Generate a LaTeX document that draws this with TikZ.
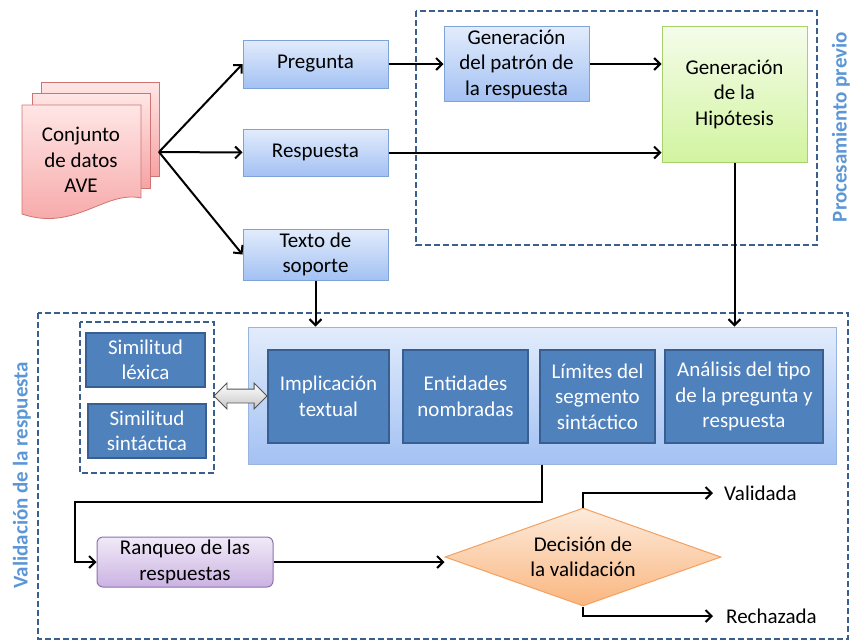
\documentclass[tikz,border=0pt]{standalone}
\usepackage{fontspec}
\setmainfont{Carlito}
\usetikzlibrary{shapes.geometric,shapes.arrows,calc,arrows.meta}

\definecolor{dashblue}{HTML}{3A5F8E}
\definecolor{labelblue}{HTML}{5B96D6}
\definecolor{boxtop}{HTML}{E2ECFC}
\definecolor{boxbot}{HTML}{A3C1F3}
\definecolor{boxedge}{HTML}{7EA3D8}
\definecolor{darkfill}{HTML}{4F81BD}
\definecolor{darkedge}{HTML}{385F91}
\definecolor{pinktop}{HTML}{FFE6E6}
\definecolor{pinkbot}{HTML}{F6A3A3}
\definecolor{pinkedge}{HTML}{D07373}
\definecolor{greentop}{HTML}{F5FCEA}
\definecolor{greenbot}{HTML}{D2F4A0}
\definecolor{greenedge}{HTML}{A6D26C}
\definecolor{purptop}{HTML}{F1EAF8}
\definecolor{purpbot}{HTML}{CBB3E2}
\definecolor{purpedge}{HTML}{8D70B0}
\definecolor{orgtop}{HTML}{FDEBDC}
\definecolor{orgbot}{HTML}{FAB67F}
\definecolor{orgedge}{HTML}{F3A060}

\newcommand\diagfont{\fontsize{21}{25.5}\selectfont}

\tikzset{
  lbox/.style={draw=boxedge, line width=1pt, top color=boxtop, bottom color=boxbot,
    align=center, inner sep=2pt, font=\diagfont},
  dbox/.style={draw=darkedge, line width=1.6pt, fill=darkfill, text=white,
    align=center, inner sep=2pt, font=\diagfont},
  gbox/.style={draw=greenedge, line width=1pt, top color=greentop, bottom color=greenbot,
    align=center, inner sep=2pt, font=\diagfont},
  pbox/.style={draw=purpedge, line width=1pt, top color=purptop, bottom color=purpbot,
    rounded corners=6pt, align=center, inner sep=2pt, font=\diagfont},
  decbox/.style={diamond, aspect=2.8, draw=orgedge, line width=1pt, top color=orgtop, bottom color=orgbot,
    align=center, inner sep=0pt, font=\diagfont},
  docpage/.style={draw=pinkedge, line width=0.8pt, top color=pinktop, bottom color=pinkbot},
  groupbox/.style={draw=dashblue, line width=2pt, dash pattern=on 6pt off 3pt},
  sidelabel/.style={rotate=90, font=\diagfont\bfseries, text=labelblue},
  flow/.style={line width=2pt, -{Straight Barb[length=6pt,width=12pt]}},
  plain/.style={font=\diagfont, inner sep=0pt}
}

\begin{document}
\begin{tikzpicture}[x=1pt,y=-1pt]
\useasboundingbox (0,0) rectangle (852,641);

% dashed groups
\draw[groupbox] (416,11) rectangle (817,245);
\draw[groupbox] (38,313) rectangle (848,639);
\draw[groupbox] (80,322) rectangle (214,473);

\node[sidelabel] (proclabel) at (841,127) {Procesamiento previo};
\node[sidelabel] (vallabel) at (22,475) {Validación de la respuesta};

% stacked data document
\path[docpage] (41,82) rectangle (159,176);
\path[docpage] (32,93) rectangle (150,188);
\path[docpage] (22,105) -- (141,105) -- (141,198)
  .. controls (105,190) and (75,232) .. (22,214) -- cycle;
\node[plain, align=center] (doc) at (81,160) {Conjunto\\de datos\\AVE};
\coordinate (src) at (159,152);

% input boxes
\node[lbox, minimum width=145, minimum height=48] (preg) at (315.5,64) {Pregunta};
\node[lbox, minimum width=145, minimum height=47] (resp) at (315.5,152.5) {Respuesta};
\node[lbox, minimum width=145, minimum height=51] (texto) at (315.5,254.5) {Texto de\\soporte};

% preprocessing
\node[lbox, minimum width=145, minimum height=75] (patron) at (516.5,64) {Generación\\del patrón de\\la respuesta};
\node[gbox, minimum width=145, minimum height=136] (hip) at (734.5,94) {Generación\\de la\\Hipótesis};

% validation modules
\node[lbox, draw=boxedge!80, minimum width=588, minimum height=137] (big) at (542,395.5) {};
\node[dbox, minimum width=121, minimum height=93] (impl) at (328.5,396.5) {Implicación\\textual};
\node[dbox, minimum width=125, minimum height=93] (ent) at (465.5,396.5) {Entidades\\nombradas};
\node[dbox, minimum width=115, minimum height=93] (lim) at (597.5,396.5) {Límites del\\segmento\\sintáctico};
\node[dbox, minimum width=158, minimum height=93] (anal) at (744,396.5) {Análisis del tipo\\de la pregunta y\\respuesta};

\node[dbox, minimum width=119, minimum height=54] (lex) at (145.5,360) {Similitud\\léxica};
\node[dbox, minimum width=118, minimum height=54] (sint) at (147,431) {Similitud\\sintáctica};

\node[double arrow, draw=gray!65!black, line width=0.8pt, top color=white, bottom color=gray!45,
  minimum height=53, minimum width=25, double arrow head extend=6pt, inner sep=6.5pt] (dbl) at (240.5,396) {};

% ranking and decision
\node[pbox, minimum width=176, minimum height=50] (ranq) at (185,562) {Ranqueo de las\\respuestas};
\node[decbox, minimum width=276, minimum height=98] (dec) at (583,557) {Decisión de\\la validación};
\node[plain, anchor=west] (val) at (724,493) {Validada};
\node[plain, anchor=west] (rech) at (726,616) {Rechazada};

% connectors
\draw[flow] (src) -- (preg.west);
\draw[flow] (src) -- (resp.west);
\draw[flow] (src) -- (texto.west);
\draw[flow] (preg.east) -- (preg.east -| patron.west);
\draw[flow] (patron.east) -- (patron.east -| hip.west);
\draw[flow] (resp.east) -- (resp.east -| hip.west);
\draw[flow] (hip.south) -- (hip.south |- big.north);
\draw[flow] (texto.south) -- (texto.south |- big.north);
\draw[flow] (big.south) -- ++(0,37) -| ($(ranq.west)+(-22,0)$) -- (ranq.west);
\draw[flow] (ranq.east) -- (ranq.east -| dec.west);
\draw[flow] (dec.north) |- ([xshift=-11pt]val.west);
\draw[flow] (dec.south) |- ([xshift=-13pt]rech.west);
\end{tikzpicture}
\end{document}
